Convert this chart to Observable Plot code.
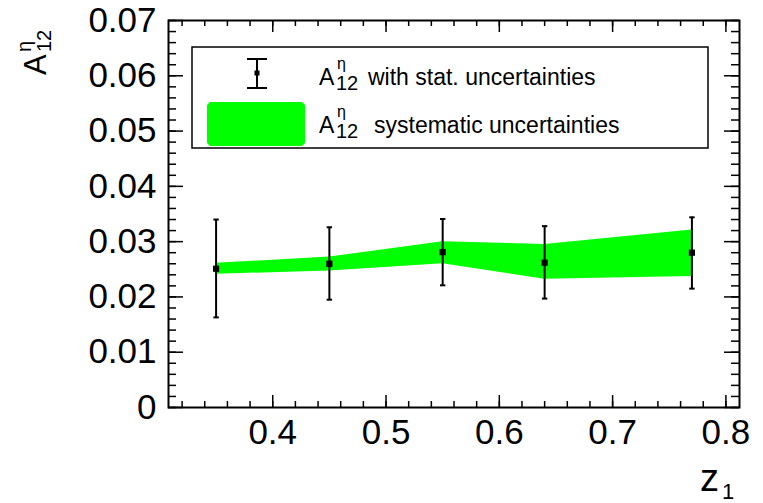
<!DOCTYPE html>
<html><head><meta charset="utf-8">
<script src="https://cdn.jsdelivr.net/npm/d3@7"></script>
<script src="https://cdn.jsdelivr.net/npm/@observablehq/plot@0.6"></script>
<style>
html,body{margin:0;padding:0;background:#fff;}
#chart{position:relative;width:763px;height:503px;}
svg{font-family:"Liberation Sans",Arial,Helvetica,sans-serif;}
</style></head><body><div id="chart"></div>
<script>
// ---- data ----
const z1 = [0.35, 0.45, 0.55, 0.64, 0.77];
const a12 = [0.0251, 0.0260, 0.0281, 0.0262, 0.0280];
const statLow = [0.0163, 0.0195, 0.0221, 0.0197, 0.0215];
const statHigh = [0.0340, 0.0326, 0.0341, 0.0328, 0.0344];
const sysLow = [0.0241, 0.0247, 0.0260, 0.0232, 0.0237];
const sysHigh = [0.0261, 0.0272, 0.0300, 0.0295, 0.0321];
const xTickLabels = [0.4, 0.5, 0.6, 0.7, 0.8];
const yTickLabels = [0, 0.01, 0.02, 0.03, 0.04, 0.05, 0.06, 0.07];
const legendStat = "with stat. uncertainties";
const legendSys = "systematic uncertainties";

// ---- layout ----
const W = 763, H = 503, mL = 168, mR = 24, mT = 20, mB = 96;
const innerW = W - mL - mR, innerH = H - mT - mB;
const xMinor = d3.range(0.32, 0.8001, 0.02);
const yMinor = d3.range(0, 0.07001, 0.002);

const data = z1.map((x, i) => ({x, y: a12[i], lo: statLow[i], hi: statHigh[i], slo: sysLow[i], shi: sysHigh[i]}));
const capSymbol = {draw(ctx, size) { const r = Math.sqrt(size / Math.PI); ctx.moveTo(-r, 0); ctx.lineTo(r, 0); }};

const tickStyle = {stroke: "black", strokeWidth: 1.5};
const plot = Plot.plot({
  width: W, height: H,
  marginLeft: mL, marginRight: mR, marginTop: mT, marginBottom: mB,
  style: {background: "white", color: "black", fontFamily: '"Liberation Sans", Arial, Helvetica, sans-serif', overflow: "visible"},
  x: {domain: [0.308, 0.812]},
  y: {domain: [0, 0.07]},
  marks: [
    Plot.areaY(data, {x: "x", y1: "slo", y2: "shi", fill: "#00ff00", curve: "linear"}),
    Plot.ruleX(data, {x: "x", y1: "lo", y2: "hi", stroke: "black", strokeWidth: 2}),
    Plot.dot(data, {x: "x", y: "lo", symbol: capSymbol, r: 2.7, stroke: "black", strokeWidth: 2}),
    Plot.dot(data, {x: "x", y: "hi", symbol: capSymbol, r: 2.7, stroke: "black", strokeWidth: 2}),
    Plot.dot(data, {x: "x", y: "y", symbol: "square", r: 3.5, fill: "black", stroke: "none"}),
    // inward ticks on all four sides
    Plot.tickX(xMinor, {x: d => d, insetTop: innerH - 6, ...tickStyle}),
    Plot.tickX(xMinor, {x: d => d, insetBottom: innerH - 6, ...tickStyle}),
    Plot.tickX(xTickLabels, {x: d => d, insetTop: innerH - 12, ...tickStyle}),
    Plot.tickX(xTickLabels, {x: d => d, insetBottom: innerH - 12, ...tickStyle}),
    Plot.tickY(yMinor, {y: d => d, insetRight: innerW - 8, ...tickStyle}),
    Plot.tickY(yMinor, {y: d => d, insetLeft: innerW - 8, ...tickStyle}),
    Plot.tickY(yTickLabels, {y: d => d, insetRight: innerW - 15, ...tickStyle}),
    Plot.tickY(yTickLabels, {y: d => d, insetLeft: innerW - 15, ...tickStyle}),
    Plot.frame({stroke: "black", strokeWidth: 2}),
    Plot.axisX({ticks: xTickLabels, tickSize: 0, tickPadding: 12, fontSize: 35, tickFormat: d3.format(".1f"), label: null}),
    Plot.axisY({ticks: yTickLabels, tickSize: 0, tickPadding: 12, fontSize: 35, tickFormat: d => d === 0 ? "0" : d3.format(".2f")(d), label: null})
  ]
});
document.getElementById("chart").appendChild(plot);

const svg = d3.select(plot);
const font = '"Liberation Sans", Arial, Helvetica, sans-serif';

// y-axis title: A^eta_12 rotated
const yt = svg.append("g").attr("transform", "translate(46,75) rotate(-90)").attr("font-family", font).attr("fill", "black").attr("text-anchor", "start");
yt.append("text").attr("x", 0).attr("y", 0).attr("font-size", 31).text("A");
yt.append("text").attr("x", 23).attr("y", -15).attr("font-size", 20).text("η");
yt.append("text").attr("x", 23).attr("y", 5).attr("font-size", 20).text("12");

// x-axis title: z_1
const xt = svg.append("g").attr("font-family", font).attr("fill", "black").attr("text-anchor", "start");
xt.append("text").attr("x", 700).attr("y", 491).attr("font-size", 38).text("z");
xt.append("text").attr("x", 722).attr("y", 499).attr("font-size", 22).text("1");

// legend
const lg = svg.append("g").attr("font-family", font).attr("fill", "black").attr("text-anchor", "start");
lg.append("rect").attr("x", 192).attr("y", 47).attr("width", 516).attr("height", 101)
  .attr("fill", "white").attr("stroke", "black").attr("stroke-width", 1.5);
// stat entry symbol
lg.append("line").attr("x1", 257).attr("x2", 257).attr("y1", 59).attr("y2", 88).attr("stroke", "black").attr("stroke-width", 2);
lg.append("line").attr("x1", 247).attr("x2", 267).attr("y1", 59).attr("y2", 59).attr("stroke", "black").attr("stroke-width", 2);
lg.append("line").attr("x1", 247).attr("x2", 267).attr("y1", 88).attr("y2", 88).attr("stroke", "black").attr("stroke-width", 2);
lg.append("rect").attr("x", 254.5).attr("y", 70.5).attr("width", 5).attr("height", 5).attr("fill", "black");
// sys entry symbol
lg.append("path").attr("d", "M210,102H302L305,105V143L302,146H210L207,143V105Z").attr("fill", "#00ff00");
function entry(yBase, label, labelX) {
  lg.append("text").attr("x", 319).attr("y", yBase).attr("font-size", 23).text("A");
  lg.append("text").attr("x", 337).attr("y", yBase - 16).attr("font-size", 16).text("η");
  lg.append("text").attr("x", 336).attr("y", yBase + 5).attr("font-size", 20).text("12");
  lg.append("text").attr("x", labelX).attr("y", yBase).attr("font-size", 23).text(label);
}
entry(85, legendStat, 368);
entry(133, legendSys, 374);
</script></body></html>
